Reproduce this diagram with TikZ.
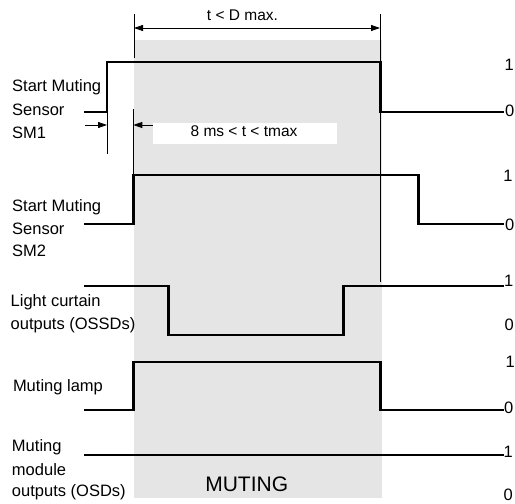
\documentclass[tikz,border=0pt]{standalone}
\usepackage{fontspec}
\setmainfont{Liberation Sans}
\usetikzlibrary{arrows.meta}
\begin{document}
\begin{tikzpicture}[x=1pt,y=-1pt,
  sig/.style={line width=2.8pt, line join=miter, line cap=butt},
  modsig/.style={line width=2.4pt, line cap=butt},
  guide/.style={line width=0.9pt},
  tip/.tip={Triangle[length=9pt,width=6pt]},
  dimarrow/.style={line width=0.8pt},
  lbl/.style={anchor=base west, inner sep=0pt, font=\fontsize{16.5}{20}\selectfont},
  lvl/.style={anchor=base west, inner sep=0pt, font=\fontsize{16.5}{20}\selectfont},
  dimtext/.style={anchor=base, inner sep=0pt, font=\fontsize{15.5}{18}\selectfont}]
\useasboundingbox (0,0) rectangle (515,504);
\clip (0,0) rectangle (515,504);
% muting window
\fill[gray!20] (134,40) rectangle (382,498);
% white box behind timing text
\fill[white] (153,123) rectangle (337,144);

% guide lines
\coordinate (gLt) at (134,14);
\coordinate (gLb) at (134,58);
\coordinate (gRt) at (380,14);
\coordinate (gRb) at (380,282);
\draw[guide] (gLt) -- (gLb);
\draw[guide] (gRt) -- (gRb);
\coordinate (aL) at (134,28);
\coordinate (aR) at (380,28);
\draw[dimarrow, {tip}-{tip}] (aL) -- (aR);
\node[dimtext] (tD) at (242.5,20.7) {t < D max.};

\coordinate (hL1) at (107,112);
\coordinate (hL2) at (107,154);
\coordinate (hR1) at (133.3,109);
\coordinate (hR2) at (133.3,175);
\draw[guide] (hL1) -- (hL2);
\draw[guide] (hR1) -- (hR2);
\coordinate (p1) at (85,125);
\coordinate (p2) at (107,125);
\coordinate (p3) at (153,125);
\coordinate (p4) at (133.3,125);
\draw[dimarrow, -{tip}] (p1) -- (p2);
\draw[dimarrow, -{tip}] (p3) -- (p4);
\node[dimtext] (t8) at (244,136.7) {8 ms < t < tmax};

% signals
\draw[sig] (84,112) -- (107,112) -- (107,62) -- (380.5,62) -- (380.5,112) -- (503.5,112);
\draw[sig] (84,224) -- (133.3,224) -- (133.3,175) -- (418.3,175) -- (418.3,224) -- (503.5,224);
\draw[sig] (84,286) -- (168.3,286) -- (168.3,335) -- (343.3,335) -- (343.3,286) -- (503.5,286);
\draw[sig] (84,410) -- (133.3,410) -- (133.3,362) -- (380.7,362) -- (380.7,410) -- (503.5,410);
\draw[modsig] (84,455) -- (503.5,455);

% left labels
\node[lbl] (a1) at (12,91.7) {Start Muting};
\node[lbl] (a2) at (12,115) {Sensor};
\node[lbl] (a3) at (12,138.3) {SM1};
\node[lbl] (b1) at (12,211.7) {Start Muting};
\node[lbl] (b2) at (12,234) {Sensor};
\node[lbl] (b3) at (12,256.5) {SM2};
\node[lbl] (c1) at (10.5,306.7) {Light curtain};
\node[lbl] (c2) at (10.5,329) {outputs (OSSDs)};
\node[lbl] (d1) at (12.8,391.7) {Muting lamp};
\node[lbl] (e1) at (11.8,451.7) {Muting};
\node[lbl] (e2) at (11.8,475) {module};
\node[lbl] (e3) at (11.8,496.7) {outputs (OSDs)};

% level labels
\node[lvl] (l11) at (504.5,70) {1};
\node[lvl] (l10) at (505,116.5) {0};
\node[lvl] (l21) at (503.2,181.7) {1};
\node[lvl] (l20) at (505,230) {0};
\node[lvl] (l31) at (504,286.7) {1};
\node[lvl] (l30) at (504.3,330.5) {0};
\node[lvl] (l41) at (505.5,367.3) {1};
\node[lvl] (l40) at (504,413.3) {0};
\node[lvl] (l51) at (503.5,457.3) {1};
\node[lvl] (l50) at (503.3,500.7) {0};

\node[anchor=base, inner sep=0pt, font=\fontsize{21}{24}\selectfont] (mut) at (246.7,491) {MUTING};
\end{tikzpicture}
\end{document}
